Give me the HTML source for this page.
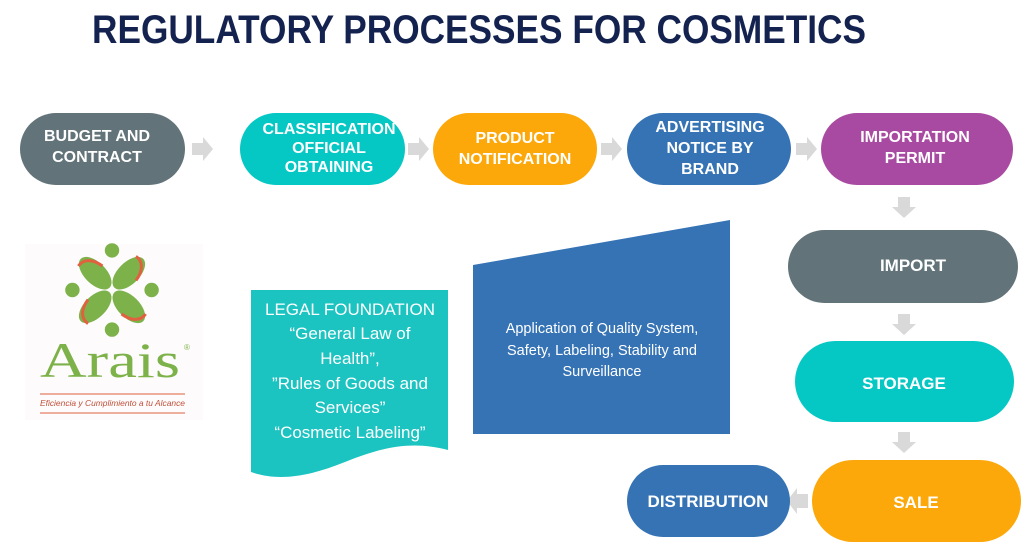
<!DOCTYPE html>
<html><head><meta charset="utf-8"><style>
html,body{margin:0;padding:0;background:#fff;}
svg{display:block;}
</style></head><body>
<svg width="1024" height="555" viewBox="0 0 1024 555" xmlns="http://www.w3.org/2000/svg" font-family="Liberation Sans, sans-serif">
<rect width="1024" height="555" fill="#fff"/>
<text x="92" y="43" font-size="40" font-weight="bold" fill="#14224f" textLength="774" lengthAdjust="spacingAndGlyphs">REGULATORY PROCESSES FOR COSMETICS</text>

<rect x="20" y="113" width="165" height="72" rx="36" fill="#627479"/>
<rect x="240" y="113" width="165" height="72" rx="36" fill="#05c7c4"/>
<rect x="433" y="113" width="164" height="72" rx="36" fill="#fca80a"/>
<rect x="627" y="113" width="164" height="72" rx="36" fill="#3573b5"/>
<rect x="821" y="113" width="192" height="72" rx="36" fill="#a94aa2"/>

<g font-weight="bold" fill="#fff" font-size="16" text-anchor="middle">
<text x="97" y="141">BUDGET AND</text><text x="97" y="162">CONTRACT</text>
<text x="329" y="134">CLASSIFICATION</text><text x="329" y="153">OFFICIAL</text><text x="329" y="172">OBTAINING</text>
<text x="515" y="143">PRODUCT</text><text x="515" y="164">NOTIFICATION</text>
<text x="710" y="132">ADVERTISING</text><text x="710" y="153">NOTICE BY</text><text x="710" y="174">BRAND</text>
<text x="915" y="142">IMPORTATION</text><text x="915" y="163">PERMIT</text>
</g>

<g fill="#d9d9d9">
<polygon points="192,143 203,143 203,137 213,149 203,161 203,155 192,155"/>
<polygon points="408,143 419,143 419,137 429,149 419,161 419,155 408,155"/>
<polygon points="601,143 612,143 612,137 622,149 612,161 612,155 601,155"/>
<polygon points="796,143 807,143 807,137 817,149 807,161 807,155 796,155"/>
<polygon points="898,197 910,197 910,207 916,207 904,218 892,207 898,207"/>
<polygon points="898,314 910,314 910,324 916,324 904,335 892,324 898,324"/>
<polygon points="898,432 910,432 910,442 916,442 904,453 892,442 898,442"/>
<polygon points="808,494 797,494 797,488 787,501 797,514 797,508 808,508"/>
</g>

<rect x="788" y="230" width="230" height="73" rx="36.5" fill="#627479"/>
<rect x="795" y="341" width="219" height="81" rx="40.5" fill="#05c7c4"/>
<rect x="812" y="460" width="209" height="82" rx="41" fill="#fca80a"/>
<rect x="627" y="465" width="163" height="72" rx="36" fill="#3573b5"/>
<g font-weight="bold" fill="#fff" font-size="17" text-anchor="middle">
<text x="913" y="271">IMPORT</text>
<text x="904" y="389">STORAGE</text>
<text x="916" y="508">SALE</text>
<text x="708" y="507">DISTRIBUTION</text>
</g>

<polygon points="473,265 730,220 730,434 473,434" fill="#3573b5"/>
<g fill="#fff" font-size="14.5" text-anchor="middle">
<text x="602" y="333">Application of Quality System,</text>
<text x="602" y="355">Safety, Labeling, Stability and</text>
<text x="602" y="376">Surveillance</text>
</g>

<path d="M251,290 L448,290 L448,450 C410,440 380,448 345,462 C310,476 280,482 251,472 Z" fill="#1bc3c1"/>
<g fill="#fff" font-size="17" text-anchor="middle">
<text x="350" y="315">LEGAL FOUNDATION</text>
<text x="350" y="339">“General Law of</text>
<text x="350" y="364">Health”,</text>
<text x="350" y="389">”Rules of Goods and</text>
<text x="350" y="413">Services”</text>
<text x="350" y="438">“Cosmetic Labeling”</text>
</g>

<rect x="25" y="244" width="178" height="176" fill="#fdfbfb"/>
<g transform="translate(112,290) scale(1.2)">
 <g fill="#7db24a">
  <ellipse cx="-14" cy="-14" rx="17" ry="9" transform="rotate(45 -14 -14)"/>
  <ellipse cx="14" cy="-14" rx="17" ry="9" transform="rotate(-45 14 -14)"/>
  <ellipse cx="-14" cy="14" rx="17" ry="9" transform="rotate(-45 -14 14)"/>
  <ellipse cx="14" cy="14" rx="17" ry="9" transform="rotate(45 14 14)"/>
  <circle cx="0" cy="-33" r="6"/><circle cx="0" cy="33" r="6"/>
  <circle cx="-33" cy="0" r="6"/><circle cx="33" cy="0" r="6"/>
 </g>
 <g fill="none" stroke="#e0603f" stroke-width="2.5">
  <path d="M-8,-20 C-16,-26 -24,-26 -28,-20"/>
  <path d="M8,20 C16,26 24,26 28,20"/>
  <path d="M20,-8 C26,-16 26,-24 20,-28"/>
  <path d="M-20,8 C-26,16 -26,24 -20,28"/>
 </g>
</g>
<text x="40" y="377" font-family="Liberation Serif, serif" font-size="50" fill="#7db24a" textLength="140" lengthAdjust="spacingAndGlyphs">Arais</text>
<text x="184" y="350" font-size="8" fill="#7db24a">®</text>
<line x1="40" y1="394" x2="185" y2="394" stroke="#e0603f" stroke-width="1"/>
<line x1="40" y1="413" x2="185" y2="413" stroke="#e0603f" stroke-width="1"/>
<text x="40" y="406" font-size="8.5" font-style="italic" fill="#c0503a" textLength="145" lengthAdjust="spacingAndGlyphs">Eficiencia y Cumplimiento a tu Alcance</text>
</svg>
</body></html>
